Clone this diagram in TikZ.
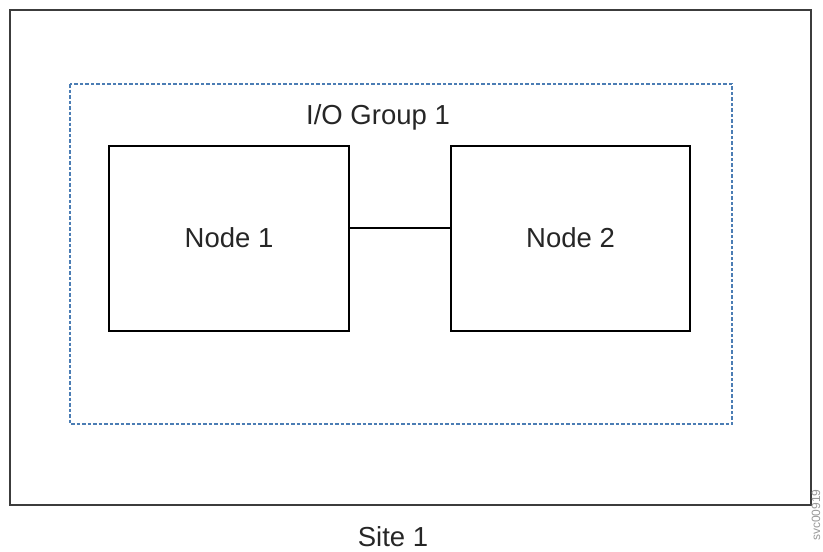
\documentclass[tikz,border=0pt]{standalone}
\usepackage{fontspec}
\setmainfont{Liberation Sans}
\definecolor{dashblue}{RGB}{75,125,180}
\definecolor{framegray}{RGB}{60,60,60}
\begin{document}
\begin{tikzpicture}[x=1pt,y=-1pt,
  box/.style={draw=black,line width=1.8pt,fill=white},
  lbl/.style={font=\fontsize{27.5}{30}\selectfont,text=black!85}]
\useasboundingbox (0,0) rectangle (823,552);
\draw[framegray,line width=2.2pt] (10,10) rectangle (811,505);
\draw[dashblue,line width=1.8pt,dash pattern=on 3.5pt off 2pt] (70,84) rectangle (732,424);
\node[lbl] (grp) at (378,117) {I/O Group 1};
\node[box,minimum width=240pt,minimum height=185pt] (n1) at (229,238.5) {};
\node[box,minimum width=239pt,minimum height=185pt] (n2) at (570.5,238.5) {};
\node[lbl] at (229,238) {Node 1};
\node[lbl] at (570.5,238) {Node 2};
\draw[line width=1.8pt] (n1.east |- 0,228) -- (n2.west |- 0,228);
\node[lbl] (site) at (393,537) {Site 1};
\node[rotate=90,font=\fontsize{12}{14}\selectfont,text=black!40] (tag) at (816,515) {svc00919};
\end{tikzpicture}
\end{document}
